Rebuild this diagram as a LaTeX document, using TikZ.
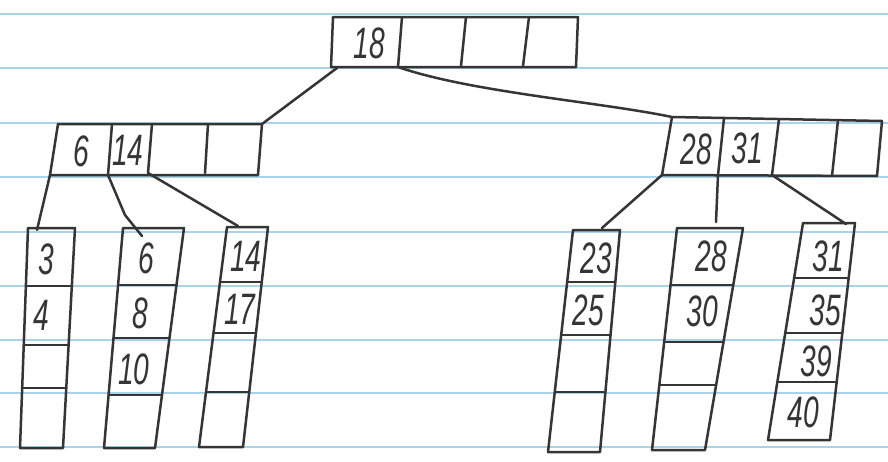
\documentclass[tikz,border=0pt]{standalone}
\usepackage{fontspec}
\setmainfont{Liberation Sans}
\usetikzlibrary{calc}
\definecolor{ink}{HTML}{353535}
\definecolor{rule}{HTML}{A9D3EA}
\newcommand\hw[1]{\scalebox{0.64}[1]{\itshape #1}}
\tikzset{
  pen/.style={draw=ink,line width=2.5pt,line join=round,line cap=round},
  digit/.style={inner sep=0pt,text=ink,font=\fontsize{44}{44}\selectfont},
  paperline/.style={draw=rule,line width=1.4pt}
}
% name, TLx, TRx, BLx, BRx, top, bottom, divider list
\newcommand\leafbox[8]{%
  \coordinate (#1-tl) at (#2,#6);
  \coordinate (#1-tr) at (#3,#6);
  \coordinate (#1-bl) at (#4,#7);
  \coordinate (#1-br) at (#5,#7);
  \draw[pen] (#1-tl) -- (#1-tr) -- (#1-br) -- (#1-bl) -- cycle;
  \foreach \d in {#8}{
    \draw[pen] ($(#1-tl)!{(\d-#6)/(#7-#6)}!(#1-bl)$) -- ($(#1-tr)!{(\d-#6)/(#7-#6)}!(#1-br)$);
  }%
}
\begin{document}
\begin{tikzpicture}[x=1pt,y=-1pt]
\useasboundingbox (0,0) rectangle (888,461);
\fill[white] (0,0) rectangle (888,461);
% ruled paper
\foreach \y in {14,68,123,177,232,286,340,393,447}
  \draw[paperline] (0,\y) -- (888,\y);

% root node
\coordinate (r-tl) at (333,17);
\coordinate (r-tr) at (578,17);
\coordinate (r-bl) at (331,67);
\coordinate (r-br) at (576,67);
\draw[pen] (r-tl) -- (r-tr) -- (r-br) -- (r-bl) -- cycle;
\coordinate (r-d1t) at (402,17); \coordinate (r-d1b) at (398,67);
\coordinate (r-d2t) at (466,17); \coordinate (r-d2b) at (461,66);
\coordinate (r-d3t) at (529,17); \coordinate (r-d3b) at (523,66);
\draw[pen] (r-d1t) -- (r-d1b);
\draw[pen] (r-d2t) -- (r-d2b);
\draw[pen] (r-d3t) -- (r-d3b);
\node[digit] (t18) at (369,43) {\hw{18}};

% internal left
\coordinate (a-tl) at (58,124);
\coordinate (a-tr) at (262,124);
\coordinate (a-bl) at (50,175);
\coordinate (a-br) at (258,175);
\draw[pen] (a-tl) -- (a-tr) -- (a-br) -- (a-bl) -- cycle;
\coordinate (a-d1t) at (112,124); \coordinate (a-d1b) at (108,175);
\coordinate (a-d2t) at (152,124); \coordinate (a-d2b) at (148,173);
\coordinate (a-d3t) at (208,124); \coordinate (a-d3b) at (205,173);
\draw[pen] (a-d1t) -- (a-d1b);
\draw[pen] (a-d2t) -- (a-d2b);
\draw[pen] (a-d3t) -- (a-d3b);
\node[digit] (a6) at (81,151) {\hw{6}};
\node[digit] (a14) at (128,150) {\hw{14}};

% internal right
\coordinate (b-tl) at (672,117);
\coordinate (b-tr) at (882,121);
\coordinate (b-bl) at (662,175);
\coordinate (b-br) at (877,176);
\draw[pen] (b-tl) -- (b-tr) -- (b-br) -- (b-bl) -- cycle;
\coordinate (b-d1t) at (724,118); \coordinate (b-d1b) at (718,175);
\coordinate (b-d2t) at (779,119); \coordinate (b-d2b) at (772,175);
\coordinate (b-d3t) at (838,120); \coordinate (b-d3b) at (832,176);
\draw[pen] (b-d1t) -- (b-d1b);
\draw[pen] (b-d2t) -- (b-d2b);
\draw[pen] (b-d3t) -- (b-d3b);
\node[digit] (b28) at (696,149) {\hw{28}};
\node[digit] (b31) at (747,148) {\hw{31}};

% leaves
\leafbox{l1}{28}{75}{20}{63}{228}{448}{286,345,388}
\leafbox{l2}{123}{184}{104}{155}{228}{448}{285,338,395}
\leafbox{l3}{227}{268}{199}{243}{227}{447}{282,333,392}
\leafbox{l4}{573}{620}{548}{600}{230}{452}{282,335,392}
\leafbox{l5}{677}{743}{652}{705}{228}{450}{285,342,385}
\leafbox{l6}{803}{855}{768}{830}{223}{440}{278,333,382}

\node[digit] (v3)  at (46,259) {\hw{3}};
\node[digit] (v4)  at (41,315) {\hw{4}};
\node[digit] (v6)  at (146,258) {\hw{6}};
\node[digit] (v8)  at (140,313) {\hw{8}};
\node[digit] (v10) at (134,369) {\hw{10}};
\node[digit] (v14) at (246,256) {\hw{14}};
\node[digit] (v17) at (240,309) {\hw{17}};
\node[digit] (v23) at (596,258) {\hw{23}};
\node[digit] (v25) at (588,310) {\hw{25}};
\node[digit] (v28) at (711,256) {\hw{28}};
\node[digit] (v30) at (702,311) {\hw{30}};
\node[digit] (v31) at (828,256) {\hw{31}};
\node[digit] (v35) at (825,310) {\hw{35}};
\node[digit] (v39) at (816,361) {\hw{39}};
\node[digit] (v40) at (803,412) {\hw{40}};

% connectors
\coordinate (c1) at (337,68);
\draw[pen] (c1) -- (a-tr);
\draw[pen] (r-d1b) .. controls (470,92) and (600,102) .. (b-tl);
\coordinate (l2-in) at (142,236);
\coordinate (l3-in) at (238,226);
\coordinate (l4-in) at (602,228);
\coordinate (l5-in) at (716,222);
\coordinate (l6-in) at (846,224);
\coordinate (l1-in) at (37,230);
\draw[pen] (a-bl) -- (l1-in);
\draw[pen] (a-d1b) -- (125,215) -- (l2-in);
\draw[pen] (a-d2b) -- (l3-in);
\draw[pen] (b-bl) -- (l4-in);
\draw[pen] (b-d1b) -- (l5-in);
\draw[pen] (b-d2b) -- (l6-in);
\end{tikzpicture}
\end{document}
